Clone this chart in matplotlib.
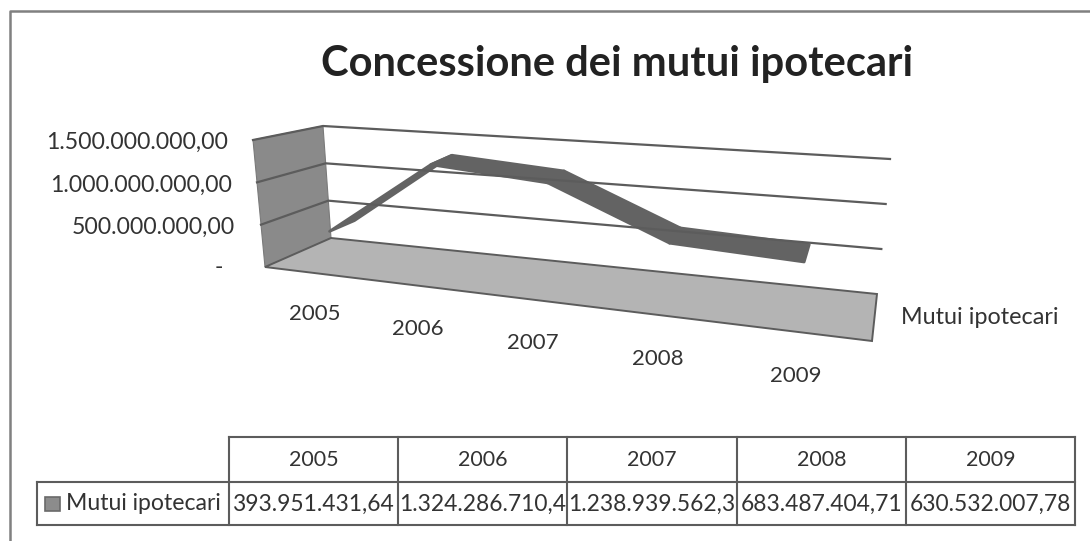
import numpy as np
import matplotlib.pyplot as plt
from matplotlib.patches import Polygon, Rectangle

plt.rcParams["font.family"] = ["Lato", "DejaVu Sans"]

title = "Concessione dei mutui ipotecari"
series_name = "Mutui ipotecari"
years = ["2005", "2006", "2007", "2008", "2009"]
values = [393951431.64, 1324286710.4, 1238939562.3, 683487404.71, 630532007.78]
value_labels = ["393.951.431,64", "1.324.286.710,4", "1.238.939.562,3",
                "683.487.404,71", "630.532.007,78"]
axis_values = [0, 500000000, 1000000000, 1500000000]
axis_labels = ["-", "500.000.000,00", "1.000.000.000,00", "1.500.000.000,00"]

axis_max = 1500000000
# where each year sits along the box, it narrows away from the viewer
year_pos = [0.08, 0.255, 0.447, 0.65, 0.875]

# box corners in figure pixels: (along, depth, height)
corners = {
    (0, 0, 0): (331, 238), (1, 0, 0): (877, 294),
    (0, 1, 0): (265, 267), (1, 1, 0): (872, 341),
    (0, 0, 1): (323, 126), (1, 0, 1): (890, 159),
    (0, 1, 1): (253, 140), (1, 1, 1): (885, 205),
}


def project(u, d, v):
    # trilinear blend of the box corners
    w = v / axis_max
    x, y = 0.0, 0.0
    for (a, b, c), (px, py) in corners.items():
        weight = (u if a else 1 - u) * (d if b else 1 - d) * (w if c else 1 - w)
        x += weight * px
        y += weight * py
    return x, y


line = "#5c5c5c"
text_color = "#333333"

fig = plt.figure(figsize=(10.9, 5.41), dpi=100)
ax = fig.add_axes([0, 0, 1, 1])
ax.set_xlim(0, 1090)
ax.set_ylim(541, 0)
ax.axis("off")

# outer frame, only top and left survive
ax.plot([9.5, 9.5, 1090], [541, 10.5, 10.5], color="#808080", lw=1.8)

ax.text(617.5, 64, title, ha="center", va="center", fontsize=30,
        fontweight="bold", color="#222222")

# side wall
wall = [project(0, 0, 0), project(0, 1, 0), project(0, 1, axis_max), project(0, 0, axis_max)]
ax.add_patch(Polygon(wall, closed=True, facecolor="#8a8a8a", edgecolor="#7a7a7a", lw=0.8))

# floor
floor = [project(0, 0, 0), project(1, 0, 0), project(1, 1, 0), project(0, 1, 0)]
ax.add_patch(Polygon(floor, closed=True, facecolor="#b4b4b4", edgecolor=line, lw=1.4))

# gridlines on the back and side walls
for v in axis_values[1:]:
    xs, ys = zip(project(0, 1, v), project(0, 0, v), project(1, 0, v))
    ax.plot(xs, ys, color=line, lw=1.6, solid_joinstyle="miter")

# ribbon for the series
d_back, d_front = 0.3, 0.7
for i in range(len(values) - 1):
    quad = [project(year_pos[i], d_back, values[i]),
            project(year_pos[i + 1], d_back, values[i + 1]),
            project(year_pos[i + 1], d_front, values[i + 1]),
            project(year_pos[i], d_front, values[i])]
    ax.add_patch(Polygon(quad, closed=True, facecolor="#636363",
                         edgecolor="#636363", lw=2, joinstyle="round"))

# value axis labels
tick_x = [223, 235, 232, 228]
tick_y = [268, 227, 185, 142]
for label, x, y in zip(axis_labels, tick_x, tick_y):
    ax.text(x, y, label, ha="right", va="center", fontsize=16.6, color=text_color)

# year labels under the floor
year_x = [315, 418, 533, 658, 796]
year_y = [314, 329, 343, 359, 376]
for year, x, y in zip(years, year_x, year_y):
    ax.text(x, y, year, ha="center", va="center", fontsize=16, color=text_color)

ax.text(901, 317, series_name, ha="left", va="center", fontsize=16.8, color=text_color)

# data table
col_x = [229, 398, 567, 737, 906, 1075]
row_y = [437, 482, 525]
left_x = 37

ax.plot([col_x[0], col_x[-1]], [row_y[0], row_y[0]], color=line, lw=1.5)
ax.plot([left_x, col_x[-1]], [row_y[1], row_y[1]], color=line, lw=1.5)
ax.plot([left_x, col_x[-1]], [row_y[2], row_y[2]], color=line, lw=1.5)
ax.plot([left_x, left_x], [row_y[1], row_y[2]], color=line, lw=1.5)
for x in col_x:
    ax.plot([x, x], [row_y[0], row_y[2]], color=line, lw=1.5)

for i, year in enumerate(years):
    cx = (col_x[i] + col_x[i + 1]) / 2
    ax.text(cx, 460, year, ha="center", va="center", fontsize=15.5, color=text_color)
    ax.text(cx, 504, value_labels[i], ha="center", va="center", fontsize=16.4, color=text_color)

ax.add_patch(Rectangle((45, 497), 15, 14, facecolor="#8c8c8c", edgecolor="#6a6a6a", lw=1.2))
ax.text(66, 503, series_name, ha="left", va="center", fontsize=16.6, color=text_color)

plt.savefig("out.png", dpi=100)
